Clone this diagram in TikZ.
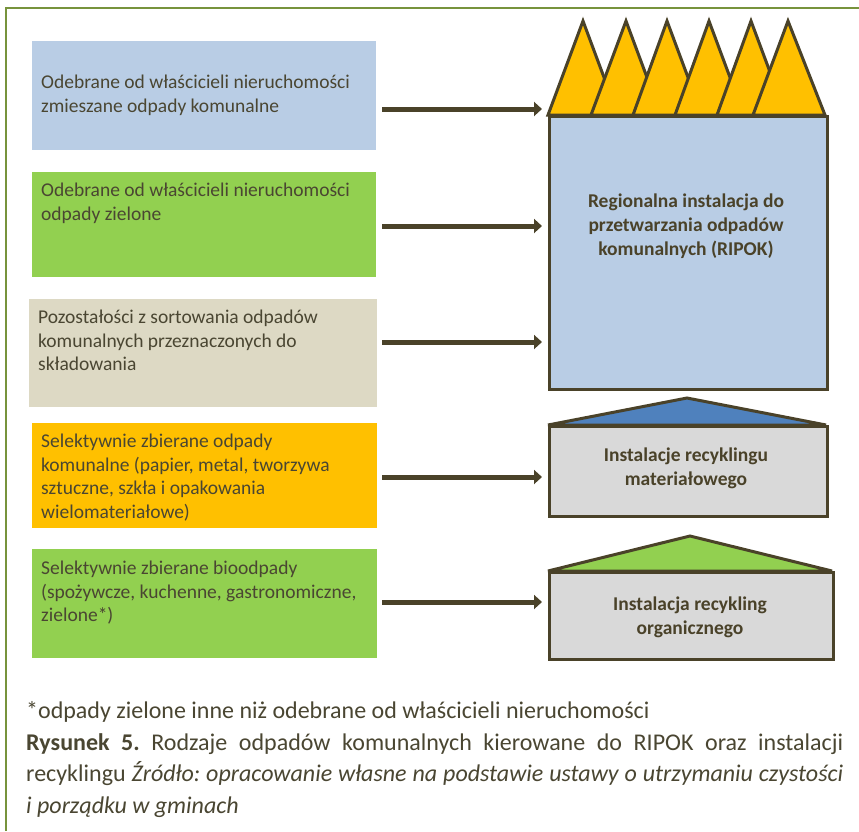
\documentclass[tikz,border=0pt]{standalone}
\usepackage{fontspec}
\setmainfont{Carlito}
\usetikzlibrary{arrows.meta}
\frenchspacing
\definecolor{frame}{HTML}{77933C}
\definecolor{dark}{HTML}{4A4229}
\definecolor{txt}{HTML}{4A4632}
\definecolor{cblue}{HTML}{B9CDE5}
\definecolor{cgreen}{HTML}{92D050}
\definecolor{cbeige}{HTML}{DDD9C4}
\definecolor{corange}{HTML}{FFC000}
\definecolor{cgray}{HTML}{D9D9D9}
\definecolor{roofblue}{HTML}{4F81BD}
\tikzset{
  lbox/.style={rectangle, inner sep=0pt, anchor=north west, draw=none},
  ltext/.style={anchor=north west, inner sep=0pt, align=left, text=txt,
     font=\fontsize{19.5}{23.6}\selectfont},
  rbox/.style={draw=dark, line width=3pt, line join=miter},
  roof/.style={draw=dark, line width=3pt, line join=miter, miter limit=2},
  rtext/.style={inner sep=0pt, align=center, text=dark,
     font=\fontsize{19.5}{24}\selectfont\bfseries},
  flow/.style={draw=dark, line width=5pt, -{Triangle[length=8pt,width=14pt]}},
  captxt/.style={anchor=north west, inner sep=0pt, align=left, text=txt,
     font=\fontsize{24}{31.8}\selectfont},
}
\begin{document}
\begin{tikzpicture}[x=1pt,y=-1pt]
\useasboundingbox (0,0) rectangle (859,831);
\fill[white] (0,0) rectangle (859,831);
% frame
\draw[frame, line width=2.5pt] (6,831) -- (6,8) -- (859,8);

% left boxes
\path[fill=cblue]   (32,41)  rectangle (376,150);
\node[lbox, minimum width=344pt, minimum height=109pt] (b1) at (32,41) {};
\path[fill=cgreen]  (32,172) rectangle (376,277);
\node[lbox, minimum width=344pt, minimum height=105pt] (b2) at (32,172) {};
\path[fill=cbeige]  (29,299) rectangle (377,407);
\node[lbox, minimum width=348pt, minimum height=108pt] (b3) at (29,299) {};
\path[fill=corange] (32,423) rectangle (377,528);
\node[lbox, minimum width=345pt, minimum height=105pt] (b4) at (32,423) {};
\path[fill=cgreen]  (32,549) rectangle (377,658);
\node[lbox, minimum width=345pt, minimum height=109pt] (b5) at (32,549) {};

\node[ltext] (t1) at (41,75) {Odebrane od właścicieli nieruchomości\\zmieszane odpady komunalne};
\node[ltext] (t2) at (41,183) {Odebrane od właścicieli nieruchomości\\odpady zielone};
\node[ltext] (t3) at (38,310) {Pozostałości z sortowania odpadów\\komunalnych przeznaczonych do\\składowania};
\node[ltext] (t4) at (41,434) {Selektywnie zbierane odpady\\komunalne (papier, metal, tworzywa\\sztuczne, szkła i opakowania\\wielomateriałowe)};
\node[ltext] (t5) at (41,561) {Selektywnie zbierane bioodpady\\(spożywcze, kuchenne, gastronomiczne,\\zielone*)};

% RIPOK with roof of triangles
\foreach \l/\a/\r in {548/583/618, 591/626/661, 633/667/702, 675/709/744, 717/751/786, 753/788/825}{
  \filldraw[fill=corange, draw=dark, line width=3pt, line join=miter] (\l,115) -- (\a,21) -- (\r,115) -- cycle;
}
\node[rbox, fill=cblue, rectangle, inner sep=0pt, minimum width=278pt, minimum height=273pt, anchor=north west] (ripok) at (548,115) {};
\node[rtext] (tr) at (686,226) {Regionalna instalacja do\\przetwarzania odpadów\\komunalnych (RIPOK)};

% material recycling
\filldraw[roof, fill=roofblue] (548,425) -- (687,398) -- (826,425) -- cycle;
\node[rbox, fill=cgray, rectangle, inner sep=0pt, minimum width=278pt, minimum height=90pt, anchor=north west] (mat) at (548,425) {};
\node[rtext] (tm) at (686,468) {Instalacje recyklingu\\materiałowego};

% organic recycling
\filldraw[roof, fill=cgreen] (548,571) -- (690,536) -- (832,571) -- cycle;
\node[rbox, fill=cgray, rectangle, inner sep=0pt, minimum width=284pt, minimum height=87pt, anchor=north west] (org) at (548,571) {};
\node[rtext] (to) at (690,617) {Instalacja recykling\\organicznego};

% arrows
\coordinate (s1) at (382,109); \coordinate (e1) at (542,109);
\coordinate (s2) at (382,226); \coordinate (e2) at (542,226);
\coordinate (s3) at (382,342); \coordinate (e3) at (542,342);
\coordinate (s4) at (382,477); \coordinate (e4) at (542,477);
\coordinate (s5) at (382,602); \coordinate (e5) at (542,602);
\foreach \i in {1,...,5}{ \draw[flow] (s\i) -- (e\i); }

% caption
\node[captxt] (cap) at (26,701) {*odpady zielone inne niż odebrane od właścicieli nieruchomości\\
\makebox[817pt][s]{\textbf{Rysunek 5.} Rodzaje odpadów komunalnych kierowane do RIPOK oraz instalacji}\\
\makebox[817pt][s]{recyklingu \textit{Źródło: opracowanie własne na podstawie ustawy o utrzymaniu czystości}}\\
\textit{i porządku w gminach}};
\end{tikzpicture}
\end{document}
